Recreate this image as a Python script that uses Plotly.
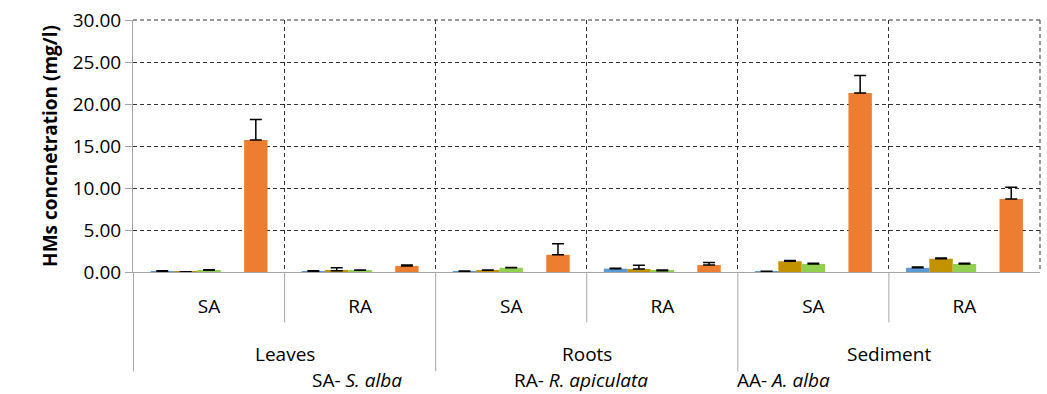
import plotly.graph_objects as go

# ---- data ----
organs = ["Leaves", "Roots", "Sediment"]
species = ["SA", "RA"]
categories = [f"{o} {s}" for o in organs for s in species]
tick_labels = [s for o in organs for s in species]

series_names = ["HM 1", "HM 2", "HM 3", "HM 4", "HM 5"]
series_colors = ["#5B9BD5", "#C39200", "#92D050", "#A5A5A5", "#ED7D31"]
hm1 = [0.10, 0.10, 0.08, 0.40, 0.05, 0.50]
hm1_err = [0.04, 0.04, 0.03, 0.05, 0.03, 0.10]
hm2 = [0.02, 0.15, 0.20, 0.35, 1.28, 1.58]
hm2_err = [0.02, 0.35, 0.05, 0.45, 0.08, 0.08]
hm3 = [0.20, 0.20, 0.50, 0.15, 0.95, 0.95]
hm3_err = [0.08, 0.05, 0.05, 0.08, 0.10, 0.10]
hm4 = [None, None, None, None, None, None]
hm4_err = [None, None, None, None, None, None]
hm5 = [15.70, 0.72, 2.05, 0.83, 21.30, 8.70]
hm5_err = [2.45, 0.10, 1.30, 0.30, 2.10, 1.40]

values = [hm1, hm2, hm3, hm4, hm5]
errors = [hm1_err, hm2_err, hm3_err, hm4_err, hm5_err]

y_ticks = [0, 5, 10, 15, 20, 25, 30]
footnote = ["SA- <i>S. alba</i>", "RA- <i>R. apiculata</i>", "AA- <i>A. alba</i>"]

FONT = "Open Sans"
FS = 19
GRID = "#333333"
DASH = "4px,3px"

fig = go.Figure()
for name, col, v, e in zip(series_names, series_colors, values, errors):
    fig.add_trace(go.Bar(
        x=categories, y=v, name=name,
        marker=dict(color=col, line=dict(width=0)),
        error_y=dict(type="data", array=e, symmetric=False, arrayminus=[0]*len(e),
                     color="black", thickness=1.5, width=6),
    ))

n = len(categories)
shapes = []
# category dividers below the axis
for i in range(n):
    b = i - 0.5
    outer = (i % len(species) == 0)
    shapes.append(dict(type="line", xref="x", yref="paper", x0=b, x1=b,
                       y0=0, y1=-0.394 if outer else -0.2,
                       line=dict(color="#A6A6A6", width=1)))
# dashed border lines on top and right of the plot area
shapes.append(dict(type="line", xref="paper", yref="paper", x0=0, x1=1, y0=1, y1=1,
                   line=dict(color=GRID, width=1, dash=DASH), layer="below"))
shapes.append(dict(type="line", xref="paper", yref="paper", x0=1, x1=1, y0=1, y1=0,
                   line=dict(color=GRID, width=1, dash=DASH), layer="below"))

annotations = []
for k, o in enumerate(organs):
    annotations.append(dict(x=k * len(species) + (len(species) - 1) / 2, y=-0.327,
                            xref="x", yref="paper", text=o, showarrow=False,
                            font=dict(family=FONT, size=FS, color="black"),
                            xanchor="center", yanchor="middle"))
for xp, t in zip([0.195, 0.418, 0.664], footnote):
    annotations.append(dict(x=xp, y=-0.429, xref="paper", yref="paper", text=t,
                            showarrow=False, font=dict(family=FONT, size=FS, color="black"),
                            xanchor="left", yanchor="middle"))

fig.update_layout(
    width=1047, height=394,
    margin=dict(l=133, r=7, t=18, b=122),
    paper_bgcolor="white", plot_bgcolor="white",
    barmode="group", bargap=0.226, bargroupgap=0,
    showlegend=False,
    font=dict(family=FONT, size=FS, color="black"),
    shapes=shapes, annotations=annotations,
)
fig.update_xaxes(
    type="category", categoryorder="array", categoryarray=categories,
    tickmode="array", tickvals=categories, ticktext=tick_labels,
    tickson="boundaries", ticks="", ticklabelstandoff=17,
    showgrid=True, gridcolor=GRID, griddash=DASH, gridwidth=1,
    showline=True, linecolor="#A6A6A6", linewidth=1,
    tickfont=dict(family=FONT, size=FS, color="black"),
)
fig.update_yaxes(
    range=[0, 30], tickmode="array", tickvals=y_ticks, tickformat=".2f",
    ticks="outside", ticklen=7, tickcolor="#A6A6A6",
    showgrid=True, gridcolor=GRID, griddash=DASH, gridwidth=1,
    showline=True, linecolor="#A6A6A6", linewidth=1,
    zeroline=False,
    tickfont=dict(family=FONT, size=FS, color="black"),
    title=dict(text="<b>HMs concnetration (mg/l)</b>", standoff=10,
               font=dict(family=FONT, size=19, color="black")),
)

# remove the default 8px page margin so the figure fills the window exactly
fig.write_html("out.html", config={"displayModeBar": False},
               post_script="document.body.style.margin='0px';document.body.style.overflow='hidden';")
